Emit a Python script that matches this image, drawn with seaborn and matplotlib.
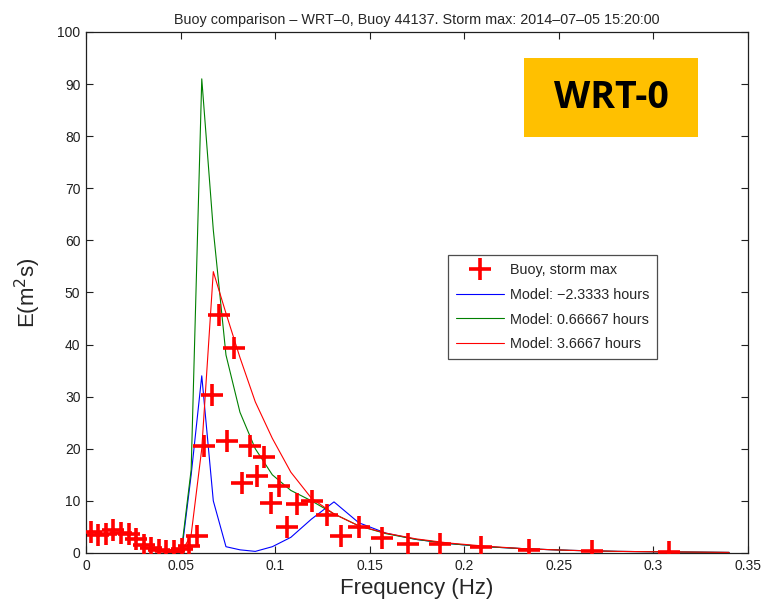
import matplotlib
matplotlib.use("Agg")
import matplotlib.pyplot as plt
import seaborn as sns
import pandas as pd
from matplotlib.lines import Line2D
from matplotlib.patches import Rectangle

# ---- data ----
buoy_freq = [0.0025, 0.0065, 0.0105, 0.0145, 0.0185, 0.0225, 0.0265, 0.0305, 0.0345,
             0.0385, 0.0425, 0.0465, 0.0505, 0.0545, 0.0585, 0.0625, 0.0665, 0.0705,
             0.0745, 0.0785, 0.0825, 0.0865, 0.0905, 0.0940, 0.0980, 0.1020, 0.1060,
             0.1115, 0.1195, 0.1275, 0.1350, 0.1445, 0.1565, 0.1700, 0.1870, 0.2090,
             0.2340, 0.2675, 0.3080]
buoy_E = [4.1, 3.5, 3.7, 4.4, 3.8, 3.6, 2.6, 1.5, 1.0,
          0.5, 0.3, 0.4, 0.7, 1.4, 3.3, 20.5, 30.3, 45.7,
          21.5, 39.4, 13.4, 20.5, 14.8, 18.4, 9.6, 12.9, 5.0,
          9.4, 10.0, 7.3, 3.3, 5.0, 2.9, 1.7, 1.7, 1.2,
          0.6, 0.3, 0.2]

model_freq = [0.0418, 0.0460, 0.0506, 0.0556, 0.0612, 0.0673, 0.0740, 0.0814, 0.0895,
              0.0985, 0.1083, 0.1192, 0.1311, 0.1442, 0.1586, 0.1745, 0.1919, 0.2111,
              0.2323, 0.2555, 0.2810, 0.3091, 0.3400]
model_m233 = [0.0, 0.0, 0.3, 15.0, 34.0, 10.0, 1.2, 0.6, 0.3,
              1.2, 3.0, 6.5, 9.8, 5.8, 3.8, 2.6, 1.8, 1.2,
              0.8, 0.5, 0.3, 0.2, 0.1]
model_p067 = [0.0, 0.0, 1.0, 16.0, 91.0, 62.0, 38.0, 27.0, 20.0,
              15.0, 12.0, 10.0, 7.5, 5.2, 3.7, 2.6, 1.8, 1.2,
              0.8, 0.5, 0.3, 0.2, 0.1]
model_p367 = [0.0, 0.0, 0.2, 3.5, 20.0, 54.0, 46.0, 37.5, 29.0,
              22.0, 15.5, 10.5, 7.5, 5.2, 3.8, 2.7, 1.9, 1.3,
              0.8, 0.5, 0.3, 0.2, 0.1]

labels = ["Buoy, storm max", "Model: \u22122.3333 hours", "Model: 0.66667 hours", "Model: 3.6667 hours"]
xticks = [0, 0.05, 0.1, 0.15, 0.2, 0.25, 0.3, 0.35]
xticklabels = ["0", "0.05", "0.1", "0.15", "0.2", "0.25", "0.3", "0.35"]
yticks = list(range(0, 101, 10))

sns.set_style("ticks")
plt.rcParams['font.family'] = ['Liberation Sans', 'DejaVu Sans']

fig = plt.figure(figsize=(7.61, 6.03), dpi=100)
ax = fig.add_axes([0.113, 0.083, 0.870, 0.864])

models = pd.DataFrame({"f": model_freq, "a": model_m233, "b": model_p067, "c": model_p367})
colors = ["#0000ff", "#008000", "#ff0000"]
for col, c, lab in zip(["a", "b", "c"], colors, labels[1:]):
    sns.lineplot(data=models, x="f", y=col, ax=ax, color=c, linewidth=0.8,
                 estimator=None, sort=False, label=lab, legend=False, zorder=2)

buoy = pd.DataFrame({"f": buoy_freq, "E": buoy_E})
sns.lineplot(data=buoy, x="f", y="E", ax=ax, color="red", linestyle="", marker="+",
             markersize=16, markeredgewidth=2.6, markeredgecolor="red",
             markerfacecolor="red", estimator=None, sort=False,
             legend=False, zorder=3)

ax.set_xlim(0, 0.35)
ax.set_ylim(0, 100)
ax.set_xticks(xticks)
ax.set_xticklabels(xticklabels)
ax.set_yticks(yticks)
ax.tick_params(direction="in", top=True, right=True, length=5, width=0.8,
               labelsize=10, colors="#202020", pad=4)
for s in ax.spines.values():
    s.set_visible(True)
    s.set_linewidth(0.9)
    s.set_color("#202020")

ax.set_xlabel("Frequency (Hz)", fontsize=16, labelpad=4)
ax.set_ylabel("E(m$^2$s)", fontsize=16, labelpad=10)
ax.set_title("Buoy comparison \u2013 WRT\u20130, Buoy 44137. Storm max: 2014\u201307\u201305 15:20:00",
             fontsize=10.4, pad=6)

handles = [Line2D([], [], color="red", linestyle="", marker="+", markersize=16, markeredgewidth=2.6),
           Line2D([], [], color=colors[0], linewidth=0.8),
           Line2D([], [], color=colors[1], linewidth=0.8),
           Line2D([], [], color=colors[2], linewidth=0.8)]
leg = ax.legend(handles, labels, loc="upper left", bbox_to_anchor=(0.547, 0.572),
                fontsize=10.4, frameon=True, fancybox=False, edgecolor="#202020",
                borderpad=0.55, labelspacing=0.75, handlelength=3.3, handletextpad=0.4,
                borderaxespad=0)
leg.get_frame().set_linewidth(0.9)

# WRT-0 label box
fig.patches.append(Rectangle((524 / 761, 1 - 137 / 603), 174 / 761, 79 / 603,
                             transform=fig.transFigure, facecolor="#ffc000",
                             edgecolor="none", zorder=5))
fig.text(611 / 761, 1 - 98 / 603, "WRT-0", ha="center", va="center", fontsize=27,
         fontweight="bold", family=["Open Sans", "DejaVu Sans"], color="black", zorder=6)

fig.savefig("out.png", dpi=100)
